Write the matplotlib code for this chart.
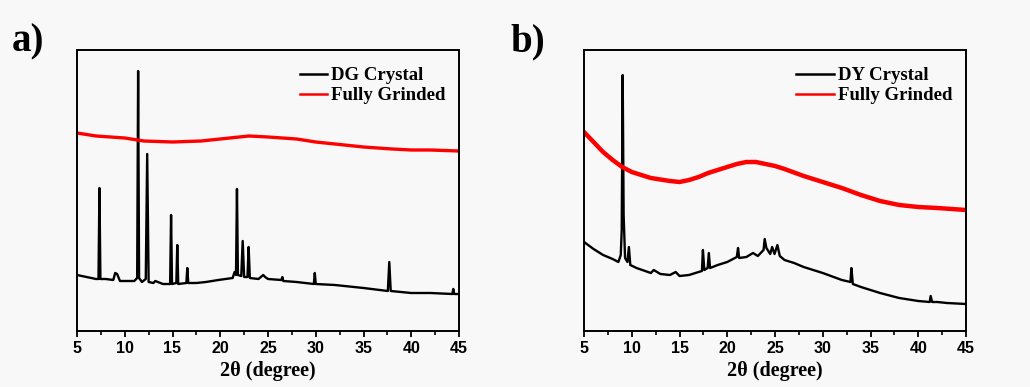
import matplotlib.pyplot as plt
from matplotlib.ticker import MultipleLocator

# --- data (intensity in arbitrary units) ---
dg_x = [5.0, 6.0, 7.0, 7.25, 7.35, 7.45, 8.0, 8.8, 9.0, 9.2, 9.5, 10.5, 11.0, 11.3, 11.4, 11.5,
        11.8, 12.2, 12.35, 12.5, 13.0, 13.2, 14.0, 14.75, 14.85, 14.95, 15.4, 15.5, 15.6,
        16.45, 16.55, 16.65, 17.5, 18.5, 19.8, 21.3, 21.5, 21.65, 21.75, 21.85, 22.2, 22.35,
        22.5, 22.85, 22.97, 23.1, 24.0, 24.5, 24.7, 25.0, 26.4, 26.5, 26.6, 28.0, 29.8, 29.9,
        30.0, 32.0, 35.0, 37.55, 37.7, 37.85, 40.0, 42.0, 44.3, 44.4, 44.5, 45.0]
dg_y = [56, 54, 52, 52, 143, 52, 52, 51, 58, 57, 50, 50, 50, 53, 260, 53,
        49, 52, 177, 49, 48, 50, 47, 47, 116, 47, 48, 86, 47,
        48, 63, 48, 48, 49, 51, 53, 59, 56, 142, 56, 55, 90,
        54, 54, 84, 53, 52, 56, 54, 52, 51, 54, 50, 49, 47, 58,
        47, 46, 43, 40, 69, 40, 38, 38, 37, 42, 37, 37]

dg_grind_x = [5, 7, 10, 12, 15, 18, 20, 23, 25, 28, 30, 33, 35, 38, 40, 42, 45]
dg_grind_y = [198, 195, 193, 190, 189, 190, 192, 195, 194, 192, 189, 186, 184, 182, 181, 181, 180]

dy_x = [5.0, 6.0, 7.0, 8.0, 8.6, 8.85, 8.95, 9.05, 9.15, 9.3, 9.55, 9.7, 9.85, 10.5, 12.0,
        12.3, 13.0, 14.0, 14.6, 15.0, 16.0, 17.0, 17.35, 17.45, 17.6, 17.95, 18.07, 18.2,
        19.0, 20.0, 21.0, 21.13, 21.25, 22.0, 22.7, 23.2, 23.8, 23.92, 24.1, 24.5, 24.7,
        24.95, 25.25, 25.5, 26.0, 27.0, 28.0, 30.0, 32.0, 32.9, 33.0, 33.15, 34.0, 36.0,
        38.0, 40.0, 41.2, 41.3, 41.45, 42.0, 43.0, 45.0]
dy_y = [89, 82, 76, 72, 69, 76, 101, 256, 116, 73, 69, 84, 66, 63, 58,
        61, 57, 56, 59, 55, 56, 59, 60, 81, 61, 63, 78, 63,
        66, 69, 74, 83, 73, 74, 78, 75, 81, 92, 83, 77, 84,
        77, 86, 75, 71, 68, 64, 58, 51, 49, 63, 47, 44, 38,
        33, 30, 29, 35, 29, 29, 28, 27]

dy_grind_x = [5, 6, 7, 8, 9, 10, 12, 14, 15, 16, 17, 18, 20, 21, 22, 23, 24, 25, 26, 28,
              30, 32, 34, 36, 38, 40, 42, 45]
dy_grind_y = [199, 189, 179, 171, 164, 159, 153, 150, 149, 151, 154, 158, 164, 167, 169, 169,
              167, 165, 162, 155, 149, 143, 136, 130, 126, 124, 123, 121]

panels = [
    ('a)', dg_x, dg_y, 'DG Crystal', dg_grind_x, dg_grind_y, 2.4, 1.4, 1.0),
    ('b)', dy_x, dy_y, 'DY Crystal', dy_grind_x, dy_grind_y, 3.2, 2.0, 1.0),
]

bg = '#f8f8f8'
fig = plt.figure(figsize=(10.3, 3.87), dpi=100, facecolor=bg)
lefts = [77 / 1030, 584 / 1030]
label_x = [12 / 1030, 510 / 1030]

for i, (tag, bx, by, blabel, rx, ry, rlw, hlen, legx) in enumerate(panels):
    ax = fig.add_axes([lefts[i], 56 / 387, 382 / 1030, 281 / 387])
    ax.set_facecolor(bg)
    ax.plot(bx, by, color='black', lw=1.7, label=blabel)
    ax.plot(rx, ry, color='#ff0000', lw=rlw, label='Fully Grinded')
    ax.set_xlim(5, 45)
    ax.set_ylim(0, 281)
    ax.set_yticks([])
    ax.xaxis.set_major_locator(MultipleLocator(5))
    ax.xaxis.set_minor_locator(MultipleLocator(2.5))
    ax.tick_params(axis='x', which='major', direction='out', length=4, width=1.3, pad=3)
    ax.tick_params(axis='x', which='minor', direction='out', length=3, width=1.2)
    for s in ax.spines.values():
        s.set_linewidth(1.4)
    for t in ax.get_xticklabels():
        t.set_family('Liberation Sans')
        t.set_fontweight('bold')
        t.set_fontsize(11.5)
    ax.set_xlabel('2θ (degree)', family='Liberation Serif', fontweight='bold',
                  fontsize=14.5, labelpad=4)
    leg = ax.legend(loc='upper right', bbox_to_anchor=(legx, 0.985), frameon=False,
                    handlelength=hlen, handletextpad=0.25, labelspacing=0.15,
                    borderaxespad=0.3,
                    prop={'family': 'Liberation Serif', 'weight': 'bold', 'size': 13.5})
    for line in leg.get_lines():
        line.set_linewidth(1.8)
    fig.text(label_x[i], 1 - 51 / 387, tag, family='Liberation Serif', fontweight='bold',
             fontsize=28, va='baseline', ha='left')

plt.savefig('out.png', dpi=100, facecolor=bg)
